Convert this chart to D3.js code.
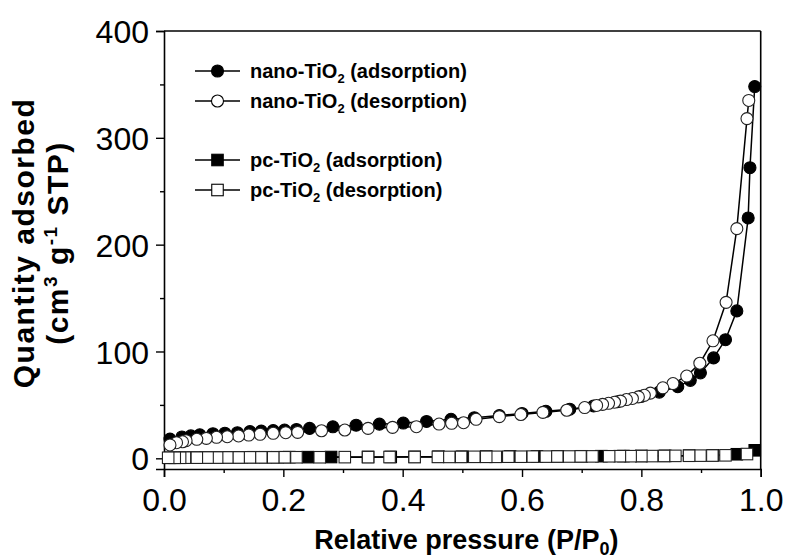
<!DOCTYPE html>
<html>
<head>
<meta charset="utf-8">
<script src="https://cdn.jsdelivr.net/npm/d3@7/dist/d3.min.js"></script>
<style>
html,body{margin:0;padding:0;background:#fff;}
svg{display:block;font-family:"Liberation Sans",Arial,sans-serif;}
</style>
</head>
<body>
<svg id="chart" width="789" height="560"></svg>
<script>
// ---- data ----
const nanoAdsP = [0.010,0.030,0.045,0.060,0.082,0.102,0.123,0.144,0.163,0.183,0.202,0.222,0.244,0.283,0.322,0.361,0.401,0.440,0.481,0.520,0.562,0.600,0.640,0.680,0.720,0.760,0.800,0.830,0.861,0.882,0.899,0.921,0.941,0.960,0.979,0.982,0.990];
const nanoAdsV = [18,20,21,22,23,23.5,24,25,25.5,26,26.5,27,28,29.5,31,32,33,34.5,36.5,38,40,42,44,46,49,53,58,62,67,73,80,94,111,138,225,272,348];
const nanoDesP = [0.980,0.977,0.960,0.942,0.920,0.898,0.876,0.853,0.836,0.815,0.805,0.795,0.785,0.775,0.765,0.755,0.745,0.735,0.725,0.705,0.675,0.635,0.598,0.562,0.523,0.502,0.482,0.461,0.423,0.383,0.342,0.303,0.264,0.224,0.204,0.183,0.161,0.142,0.125,0.106,0.088,0.071,0.055,0.037,0.031,0.021,0.010];
const nanoDesV = [335,318,215,146,110,89,77,70,66,61,59,57.5,56,55,53.5,52.5,51.5,50.5,49.5,47.5,45,43,41,39,36.5,33.3,32.8,32.1,29.6,29,28,26.5,25.8,24.3,24,23.4,22.5,21.8,20.9,20.2,19.7,18.7,17.8,16.5,15.5,14.6,12.5];
const pcAdsP = [0.010,0.030,0.050,0.070,0.090,0.110,0.130,0.150,0.170,0.190,0.210,0.241,0.280,0.342,0.380,0.420,0.460,0.500,0.540,0.580,0.625,0.660,0.700,0.733,0.770,0.800,0.840,0.880,0.920,0.960,0.990];
const pcAdsV = [0.5,0.6,0.7,0.8,0.8,0.9,0.9,1.0,1.0,1.0,1.1,1.1,1.2,1.3,1.3,1.4,1.5,1.5,1.6,1.7,1.8,1.8,1.9,2.0,2.1,2.2,2.3,2.5,2.8,3.8,7.5];
const pcDesP = [0.977,0.941,0.919,0.899,0.880,0.857,0.838,0.818,0.800,0.782,0.764,0.746,0.718,0.698,0.679,0.659,0.640,0.618,0.598,0.577,0.556,0.540,0.520,0.498,0.478,0.459,0.420,0.378,0.342,0.303,0.261,0.222,0.202,0.183,0.163,0.144,0.125,0.106,0.089,0.073,0.055,0.035,0.027,0.018,0.007];
const pcDesV = [4.0,2.8,2.6,2.5,2.4,2.3,2.2,2.1,2.1,2.0,2.0,1.9,1.8,1.8,1.7,1.7,1.6,1.6,1.5,1.5,1.4,1.4,1.4,1.3,1.3,1.3,1.2,1.2,1.1,1.1,1.0,1.0,1.0,0.9,0.9,0.9,0.8,0.8,0.7,0.7,0.6,0.6,0.5,0.5,0.5];

const xTicks = [0,0.2,0.4,0.6,0.8,1.0];
const xMinor = [0.1,0.3,0.5,0.7,0.9];
const yTicks = [0,100,200,300,400];
const yMinor = [50,150,250,350];
const legendLabels = ["nano-TiO|2| (adsorption)","nano-TiO|2| (desorption)","pc-TiO|2| (adsorption)","pc-TiO|2| (desorption)"];

// ---- layout ----
const svg = d3.select("#chart");
const L = 164, R = 760.7, T = 31, B = 469;
const x = d3.scaleLinear().domain([0,1]).range([L,R]);
const y = d3.scaleLinear().domain([-10,400]).range([B,T]);

// frame
const frame = svg.append("g");
frame.append("line").attr("x1",L).attr("x2",R).attr("y1",T).attr("y2",T);
frame.append("line").attr("x1",R).attr("x2",R).attr("y1",T).attr("y2",B);
frame.selectAll("line").attr("stroke","#000").attr("stroke-width",1.6);

// axes
const gx = svg.append("g").attr("transform",`translate(0,${B})`)
  .call(d3.axisBottom(x).tickValues(xTicks).tickFormat(d3.format(".1f")).tickSize(8).tickPadding(5));
const gxm = svg.append("g").attr("transform",`translate(0,${B})`)
  .call(d3.axisBottom(x).tickValues(xMinor).tickFormat("").tickSize(4));
const gy = svg.append("g").attr("transform",`translate(${L},0)`)
  .call(d3.axisLeft(y).tickValues(yTicks).tickSize(8).tickPadding(7));
const gym = svg.append("g").attr("transform",`translate(${L},0)`)
  .call(d3.axisLeft(y).tickValues(yMinor).tickFormat("").tickSize(4));
[gx,gxm,gy,gym].forEach(g=>{
  g.select(".domain").attr("stroke","#000").attr("stroke-width",1.6);
  g.selectAll(".tick line").attr("stroke","#000").attr("stroke-width",1.4);
  g.selectAll(".tick text").attr("fill","#000").style("font-size","32px").style("font-family","'Liberation Sans',Arial,sans-serif");
});
gxm.select(".domain").remove(); gym.select(".domain").remove();
gx.selectAll(".tick text").attr("dy","0.92em");
gy.selectAll(".tick text").attr("dy","0.36em");

// series drawing
const line = d3.line().x(d=>x(d[0])).y(d=>y(d[1]));
const zip = (a,b)=>a.map((v,i)=>[v,b[i]]);
const r = 6, s = 11.5;
function drawSeries(P,V,shape,filled){
  const data = zip(P,V);
  svg.append("path").datum(data).attr("d",line).attr("fill","none").attr("stroke","#000").attr("stroke-width",1.5);
  const g = svg.append("g");
  if(shape==="circle"){
    g.selectAll("circle").data(data).join("circle")
      .attr("cx",d=>x(d[0])).attr("cy",d=>y(d[1])).attr("r",r)
      .attr("fill",filled?"#000":"#fff").attr("stroke",filled?"#000":"#222").attr("stroke-width",1.1);
  } else {
    g.selectAll("rect").data(data).join("rect")
      .attr("x",d=>x(d[0])-s/2).attr("y",d=>y(d[1])-s/2).attr("width",s).attr("height",s)
      .attr("fill",filled?"#000":"#fff").attr("stroke",filled?"#000":"#222").attr("stroke-width",1.1);
  }
}
drawSeries(pcAdsP,pcAdsV,"square",true);
drawSeries(pcDesP,pcDesV,"square",false);
drawSeries(nanoAdsP,nanoAdsV,"circle",true);
drawSeries(nanoDesP,nanoDesV,"circle",false);

// legend
const legY = [71,101,160,190];
const legShapes = [["circle",true],["circle",false],["square",true],["square",false]];
legendLabels.forEach((lab,i)=>{
  const g = svg.append("g").attr("transform",`translate(0,${legY[i]})`);
  g.append("line").attr("x1",195).attr("x2",240).attr("y1",0).attr("y2",0).attr("stroke","#000").attr("stroke-width",1.5);
  const [sh,f] = legShapes[i];
  if(sh==="circle") g.append("circle").attr("cx",217.5).attr("cy",0).attr("r",r).attr("fill",f?"#000":"#fff").attr("stroke","#000").attr("stroke-width",1.1);
  else g.append("rect").attr("x",217.5-s/2).attr("y",-s/2).attr("width",s).attr("height",s).attr("fill",f?"#000":"#fff").attr("stroke","#000").attr("stroke-width",1.1);
  const parts = lab.split("|");
  const t = g.append("text").attr("x",250).attr("y",7).style("font-size","20px").style("font-weight","bold").attr("fill","#000");
  t.append("tspan").text(parts[0]);
  t.append("tspan").text(parts[1]).style("font-size","13px").attr("dy",5);
  t.append("tspan").text(parts[2]).attr("dy",-5);
});

// axis titles
const xt = svg.append("text").attr("x",(L+R)/2 + 4).attr("y",549).attr("text-anchor","middle")
  .style("font-size","27px").style("font-weight","bold").attr("fill","#000");
xt.append("tspan").text("Relative pressure (P/P");
xt.append("tspan").text("0").style("font-size","18px").attr("dy",6);
xt.append("tspan").text(")").attr("dy",-6);

const yt = svg.append("g").attr("transform","translate(0,243) rotate(-90)");
yt.append("text").attr("x",0).attr("y",34).attr("text-anchor","middle")
  .style("font-size","30px").style("font-weight","bold").style("letter-spacing","1.5px").attr("fill","#000").text("Quantity adsorbed");
const yt2 = yt.append("text").attr("x",0).attr("y",68).attr("text-anchor","middle")
  .style("font-size","30px").style("font-weight","bold").style("letter-spacing","1.5px").attr("fill","#000");
yt2.append("tspan").text("(cm");
yt2.append("tspan").text("3").style("font-size","19px").attr("dy",-11);
yt2.append("tspan").text(" g").attr("dy",11);
yt2.append("tspan").text("-1").style("font-size","19px").attr("dy",-11);
yt2.append("tspan").text(" STP)").attr("dy",11);
</script>
</body>
</html>
